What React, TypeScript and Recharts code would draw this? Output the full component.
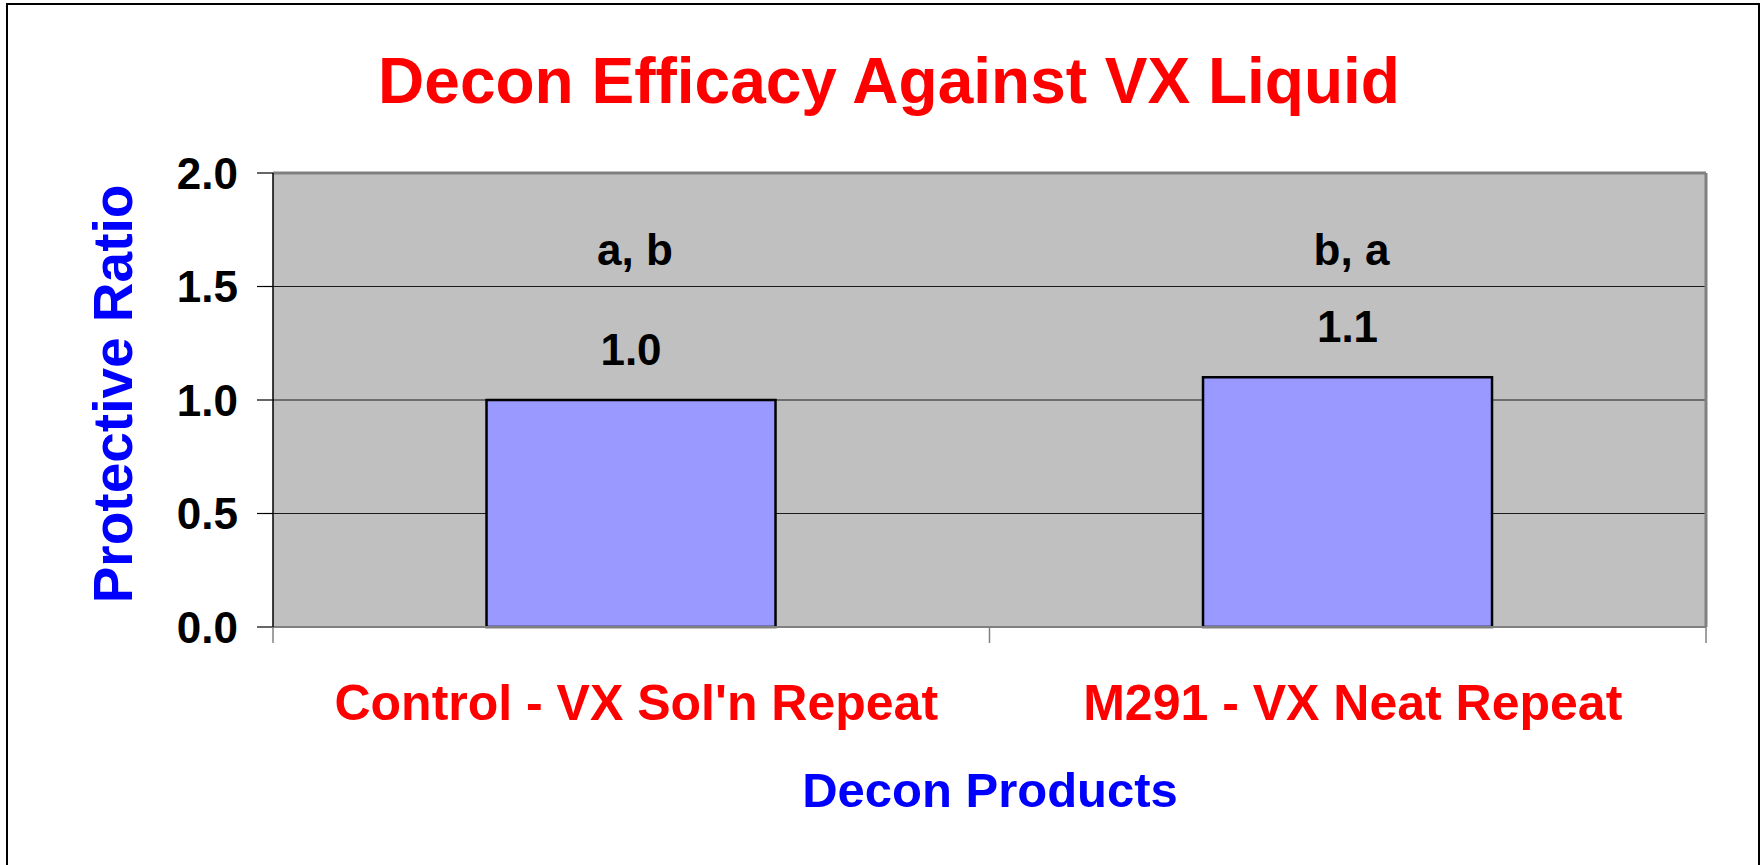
import React from 'react';
import { BarChart, Bar, XAxis, YAxis, CartesianGrid, ReferenceLine, LabelList } from 'recharts';

const categories = ["Control - VX Sol'n Repeat", 'M291 - VX Neat Repeat'];
const ratios = [1.0, 1.1];
const groupLetters = ['a, b', 'b, a'];
const yTicks = [0, 0.5, 1, 1.5, 2];

const data = categories.map((name, i) => ({ name, ratio: ratios[i], letters: groupLetters[i] }));

const FONT = "'Liberation Sans', Arial, Helvetica, sans-serif";
const LETTER_BASELINE = 265;

function CategoryTick(props: any) {
    const { x, y, payload, index, width } = props;
    const half = (width || 1433) / categories.length / 2;
    return (
        <g>
            {index === 0 && <line x1={x - half} x2={x - half} y1={y - 16} y2={y} stroke="#808080" strokeWidth={1.5} />}
            <line x1={x + half} x2={x + half} y1={y - 16} y2={y} stroke="#808080" strokeWidth={1.5} />
            <text x={x + 5} y={y + 77} textAnchor="middle" fill="#FF0000" fontSize={50} fontWeight="bold" fontFamily={FONT}>
                {payload.value}
            </text>
        </g>
    );
}

function LetterLabel(props: any) {
    const { x, width, value } = props;
    return (
        <text x={x + width / 2 + 4} y={LETTER_BASELINE} textAnchor="middle" fill="#000" fontSize={44} fontWeight="bold" fontFamily={FONT}>
            {value}
        </text>
    );
}

export default function App() {
    return (
        <div style={{ position: 'absolute', left: 0, top: 0, width: 1762, height: 865, overflow: 'hidden', background: '#fff' }}>
            <div style={{ position: 'absolute', left: 6, top: 3, width: 1750, height: 900, border: '2px solid #000' }} />
            <div style={{ position: 'absolute', left: 0, top: 0 }}>
                <BarChart width={1762} height={865} data={data} margin={{ top: 173, right: 56, bottom: 38, left: 158 }} barCategoryGap="29.8%">
                    <CartesianGrid fill="#C0C0C0" vertical={false} stroke="#1a1a1a" strokeWidth={1} />
                    <CartesianGrid
                        horizontal={false}
                        stroke="#808080"
                        strokeWidth={3}
                        verticalCoordinatesGenerator={({ offset }: any) => [offset.left + offset.width]}
                    />
                    <ReferenceLine y={2} stroke="#808080" strokeWidth={3} />
                    <XAxis
                        dataKey="name"
                        height={200}
                        tickSize={16}
                        tickMargin={0}
                        tickLine={false}
                        axisLine={{ stroke: '#808080', strokeWidth: 2 }}
                        tick={<CategoryTick />}
                        interval={0}
                        label={{
                            content: () => (
                                <text x={990} y={807} textAnchor="middle" fill="#0000FF" fontSize={49} fontWeight="bold" fontFamily={FONT}>
                                    Decon Products
                                </text>
                            ),
                        }}
                    />
                    <YAxis
                        width={115}
                        domain={[0, 2]}
                        ticks={yTicks}
                        interval={0}
                        tickSize={16}
                        tickMargin={19}
                        tickFormatter={(v: number) => v.toFixed(1)}
                        axisLine={{ stroke: '#000', strokeWidth: 1.5 }}
                        tickLine={{ stroke: '#000', strokeWidth: 1.2 }}
                        tick={{ fill: '#000', fontSize: 44, fontWeight: 'bold', fontFamily: FONT }}
                        label={{
                            content: (p: any) => {
                                const vb = p.viewBox || { y: 173, height: 454 };
                                const cy = vb.y + vb.height / 2 - 6;
                                return (
                                    <text
                                        x={132}
                                        y={cy}
                                        transform={`rotate(-90, 132, ${cy})`}
                                        textAnchor="middle"
                                        fill="#0000FF"
                                        fontSize={55}
                                        fontWeight="bold"
                                        fontFamily={FONT}
                                    >
                                        Protective Ratio
                                    </text>
                                );
                            },
                        }}
                    />
                    <Bar dataKey="ratio" fill="#9999FF" stroke="#000" strokeWidth={2.5} isAnimationActive={false}>
                        <LabelList
                            dataKey="ratio"
                            position="top"
                            offset={35}
                            formatter={(v: any) => Number(v).toFixed(1)}
                            fill="#000"
                            fontSize={44}
                            fontWeight="bold"
                            fontFamily={FONT}
                        />
                        <LabelList dataKey="letters" content={<LetterLabel />} />
                    </Bar>
                </BarChart>
            </div>
            <svg width={1762} height={865} style={{ position: 'absolute', left: 0, top: 0, pointerEvents: 'none' }}>
                <text x={889} y={103} textAnchor="middle" fill="#FF0000" fontSize={64} fontWeight="bold" fontFamily={FONT}>
                    Decon Efficacy Against VX Liquid
                </text>
            </svg>
        </div>
    );
}
